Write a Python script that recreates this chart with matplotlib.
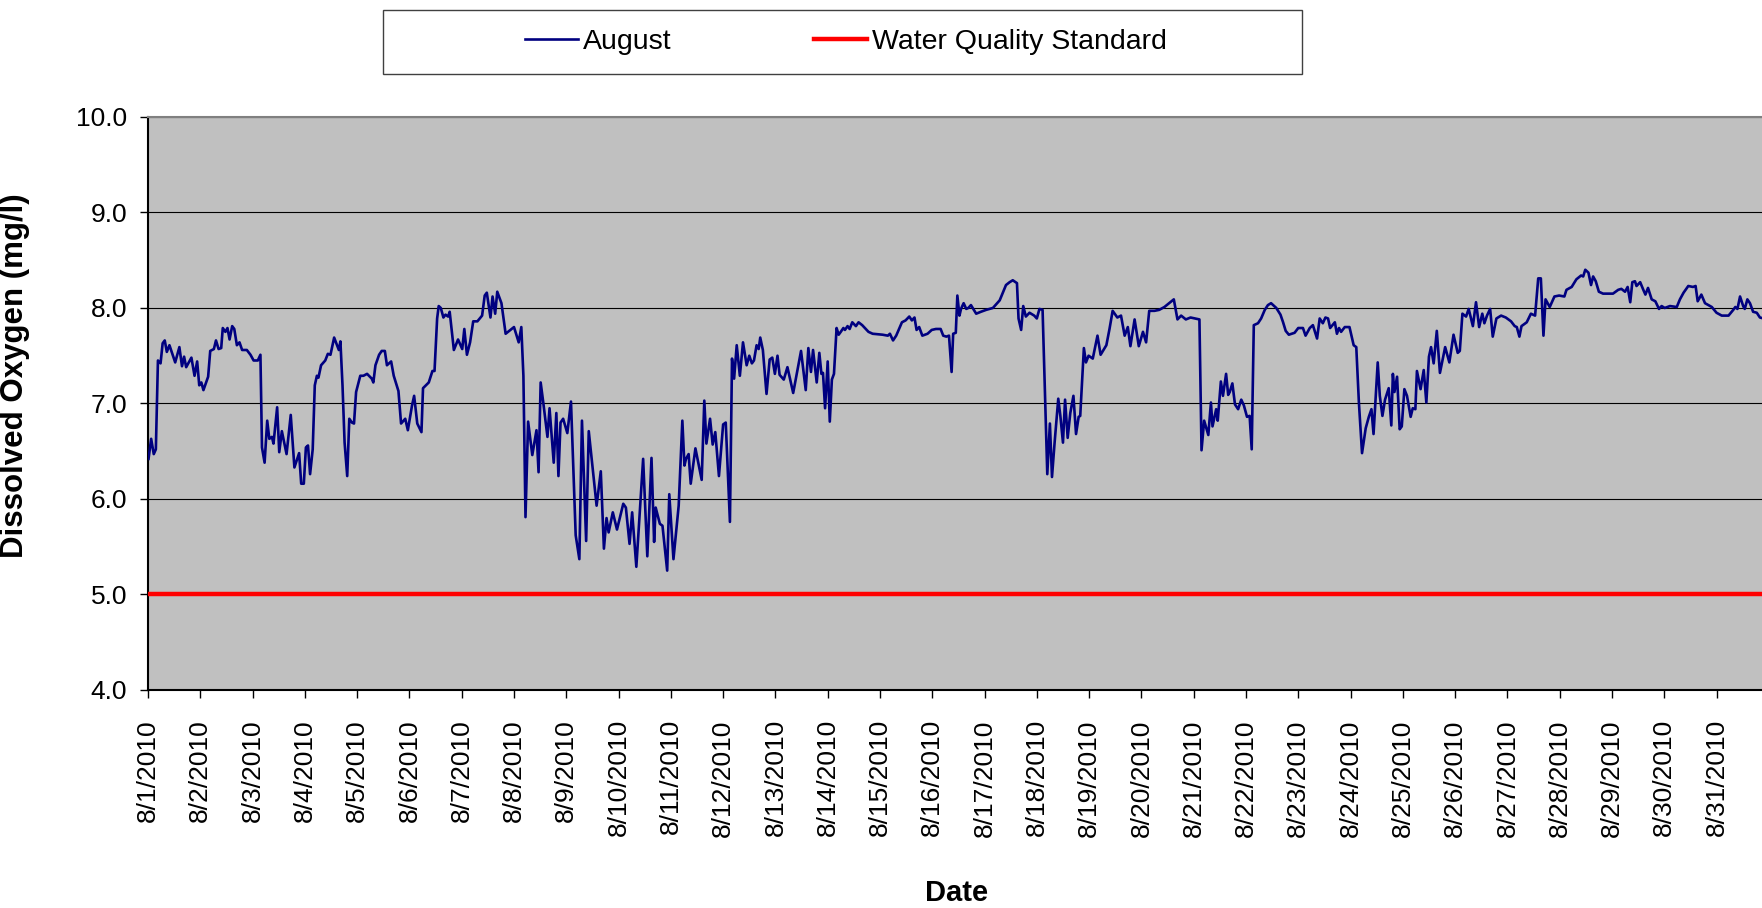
import matplotlib
matplotlib.use("Agg")
import matplotlib.pyplot as plt
import matplotlib.dates as mdates
from matplotlib.patches import Rectangle
from matplotlib.ticker import FuncFormatter, MultipleLocator
import pandas as pd

plt.rcParams['font.family'] = ['Liberation Sans', 'DejaVu Sans']

# time since 8/1/2010 00:00, in days, and dissolved oxygen (mg/l)
day_offset = [
    0.01, 0.06, 0.11, 0.15, 0.19, 0.24, 0.28, 0.32, 0.36, 0.41, 0.52, 0.60, 0.65, 0.69, 0.73,
    0.83, 0.89, 0.94, 0.98, 1.02, 1.06, 1.15, 1.19, 1.26, 1.30, 1.35, 1.40, 1.43, 1.48, 1.52,
    1.56, 1.61, 1.65, 1.70, 1.75, 1.80, 1.89, 1.96, 2.02, 2.10, 2.15, 2.18, 2.23, 2.28, 2.32,
    2.37, 2.40, 2.47, 2.51, 2.56, 2.65, 2.73, 2.80, 2.89, 2.93, 2.98, 3.02, 3.06, 3.10, 3.15,
    3.19, 3.23, 3.26, 3.31, 3.39, 3.44, 3.49, 3.56, 3.65, 3.68, 3.72, 3.76, 3.81, 3.85, 3.90,
    3.94, 3.98, 4.06, 4.12, 4.19, 4.28, 4.31, 4.35, 4.42, 4.47, 4.53, 4.57, 4.65, 4.70, 4.79,
    4.84, 4.92, 4.97, 5.05,
    5.09, 5.15, 5.23, 5.26, 5.37, 5.44, 5.48, 5.53, 5.56, 5.60, 5.65, 5.69, 5.74, 5.77, 5.85,
    5.93, 6.01, 6.05, 6.10, 6.16, 6.22, 6.30, 6.39, 6.44, 6.48, 6.55, 6.59, 6.64, 6.68, 6.76,
    6.84, 7.00, 7.09, 7.14, 7.18, 7.22, 7.27, 7.35, 7.43, 7.47, 7.51, 7.56, 7.64, 7.68, 7.76,
    7.81, 7.85, 7.89, 7.94, 8.02, 8.09, 8.18, 8.25, 8.30, 8.38, 8.43, 8.58, 8.66, 8.72, 8.77,
    8.81, 8.89, 8.97, 9.09, 9.14, 9.21, 9.26, 9.34, 9.47, 9.55, 9.63, 9.68, 9.71, 9.79, 9.84,
    9.93, 9.97, 10.05, 10.15, 10.22, 10.26,
    10.29, 10.34, 10.38, 10.47, 10.51, 10.59, 10.64, 10.68, 10.75, 10.80, 10.85, 10.92, 11.00,
    11.05, 11.13, 11.17, 11.21, 11.26, 11.32, 11.38, 11.45, 11.50, 11.55, 11.59, 11.64, 11.68,
    11.71, 11.76, 11.83, 11.89, 11.94, 11.99, 12.04, 12.08, 12.16, 12.23, 12.34, 12.49, 12.58,
    12.63, 12.68, 12.72, 12.79, 12.84, 12.88, 12.91, 12.95, 13.00, 13.04, 13.08, 13.12, 13.17,
    13.21, 13.25, 13.30, 13.33, 13.38, 13.42, 13.47, 13.54, 13.59, 13.66, 13.78, 13.86, 14.05,
    14.15, 14.19, 14.25, 14.31, 14.42, 14.49, 14.56, 14.61, 14.66, 14.70, 14.75, 14.81, 14.91,
    14.99, 15.07, 15.16, 15.21, 15.27, 15.32, 15.37, 15.40, 15.45, 15.48,
    15.52, 15.55, 15.60, 15.65, 15.69, 15.74, 15.84, 15.93, 16.03, 16.16, 16.29, 16.35, 16.41,
    16.48, 16.54, 16.62, 16.65, 16.70, 16.74, 16.79, 16.86, 16.95, 17.00, 17.05, 17.11, 17.16,
    17.20, 17.25, 17.29, 17.34, 17.41, 17.45, 17.50, 17.54, 17.59, 17.64, 17.70, 17.75, 17.80,
    17.83, 17.90, 17.94, 17.99, 18.07, 18.16, 18.22, 18.33, 18.39, 18.45, 18.54, 18.61, 18.68,
    18.74, 18.79, 18.87, 18.95, 19.03, 19.09, 19.15, 19.25, 19.34, 19.44, 19.53, 19.62, 19.69,
    19.76, 19.85, 19.94, 20.11, 20.15, 20.20, 20.28, 20.33, 20.36, 20.43, 20.46, 20.52, 20.56,
    20.62, 20.66,
    20.69, 20.74, 20.79, 20.85, 20.91, 20.96, 21.02, 21.07, 21.11, 21.15, 21.23, 21.29, 21.36,
    21.42, 21.48, 21.58, 21.66, 21.71, 21.76, 21.82, 21.93, 22.00, 22.09, 22.14, 22.22, 22.28,
    22.36, 22.41, 22.47, 22.52, 22.57, 22.61, 22.70, 22.74, 22.78, 22.82, 22.89, 22.98, 23.06,
    23.11, 23.16, 23.22, 23.29, 23.35, 23.40, 23.44, 23.52, 23.56, 23.61, 23.66, 23.73, 23.78,
    23.81, 23.84, 23.89, 23.94, 23.98, 24.03, 24.08, 24.15, 24.19, 24.24, 24.27, 24.34, 24.40,
    24.45, 24.50, 24.54, 24.59, 24.65, 24.71, 24.81, 24.89, 24.97, 25.05, 25.09, 25.14, 25.21,
    25.26, 25.34, 25.40, 25.46, 25.52, 25.56, 25.61, 25.67, 25.72, 25.79, 25.88,
    25.97, 26.07, 26.14, 26.18, 26.23, 26.27, 26.37, 26.45, 26.53, 26.59, 26.64, 26.69, 26.73,
    26.81, 26.90, 26.99, 27.09, 27.13, 27.23, 27.32, 27.41, 27.45, 27.49, 27.55, 27.60, 27.64,
    27.69, 27.75, 27.83, 28.02, 28.12, 28.18, 28.25, 28.30, 28.35, 28.39, 28.44, 28.47, 28.54,
    28.60, 28.64, 28.69, 28.76, 28.83, 28.90, 28.95, 29.01, 29.11, 29.24, 29.30, 29.37, 29.46,
    29.55, 29.60, 29.64, 29.71, 29.78, 29.91, 30.00, 30.10, 30.23, 30.32, 30.36, 30.40, 30.45,
    30.51, 30.54, 30.59, 30.64, 30.70, 30.77, 30.83, 30.90, 30.95,
]
do_values = [
    6.42, 6.63, 6.47, 6.52, 7.45, 7.42, 7.63, 7.66, 7.54, 7.61, 7.43, 7.59, 7.39, 7.49, 7.38,
    7.48, 7.29, 7.44, 7.19, 7.22, 7.14, 7.28, 7.55, 7.57, 7.66, 7.57, 7.58, 7.79, 7.75, 7.79,
    7.67, 7.81, 7.78, 7.61, 7.64, 7.56, 7.56, 7.51, 7.45, 7.45, 7.51, 6.54, 6.38, 6.82, 6.63,
    6.65, 6.58, 6.96, 6.49, 6.71, 6.47, 6.88, 6.33, 6.48, 6.16, 6.16, 6.54, 6.56, 6.26, 6.52,
    7.19, 7.29, 7.27, 7.40, 7.45, 7.52, 7.51, 7.69, 7.56, 7.65, 7.19, 6.59, 6.24, 6.84, 6.80,
    6.79, 7.12, 7.29, 7.29, 7.31, 7.26, 7.22, 7.40, 7.51, 7.55, 7.55, 7.40, 7.44, 7.29, 7.13,
    6.79, 6.84, 6.72, 6.98,
    7.08, 6.79, 6.70, 7.16, 7.22, 7.34, 7.34, 7.89, 8.02, 8.00, 7.90, 7.93, 7.91, 7.96, 7.56,
    7.67, 7.57, 7.78, 7.51, 7.64, 7.86, 7.86, 7.92, 8.13, 8.16, 7.90, 8.12, 7.94, 8.17, 8.05,
    7.73, 7.80, 7.64, 7.80, 7.29, 5.81, 6.81, 6.46, 6.72, 6.28, 7.22, 7.01, 6.65, 6.95, 6.38,
    6.90, 6.24, 6.80, 6.84, 6.69, 7.02, 5.62, 5.37, 6.82, 5.56, 6.71, 5.93, 6.29, 5.48, 5.80,
    5.65, 5.86, 5.68, 5.95, 5.91, 5.53, 5.86, 5.29, 6.42, 5.40, 6.43, 5.55, 5.91, 5.74, 5.72,
    5.25, 6.05, 5.37, 5.93, 6.82, 6.35,
    6.42, 6.47, 6.16, 6.53, 6.42, 6.20, 7.03, 6.58, 6.84, 6.57, 6.70, 6.24, 6.78,
    6.80, 5.76, 7.47, 7.26, 7.61, 7.29, 7.64, 7.40, 7.50, 7.42, 7.45, 7.61, 7.57,
    7.69, 7.56, 7.10, 7.46, 7.48, 7.31, 7.50, 7.30, 7.25, 7.38, 7.11, 7.55, 7.14,
    7.58, 7.33, 7.56, 7.22, 7.53, 7.31, 7.32, 6.95, 7.44, 6.81, 7.25, 7.31, 7.79,
    7.72, 7.75, 7.79, 7.77, 7.81, 7.78, 7.85, 7.81, 7.85, 7.82, 7.75, 7.73, 7.72,
    7.71, 7.73, 7.66, 7.71, 7.85, 7.87, 7.91, 7.87, 7.90, 7.77, 7.80, 7.71, 7.73,
    7.77, 7.78, 7.78, 7.71, 7.70, 7.71, 7.33, 7.73, 7.74, 8.13,
    7.92, 7.99, 8.05, 7.99, 8.00, 8.03, 7.94, 7.96, 7.98, 8.00, 8.08, 8.16, 8.24,
    8.27, 8.29, 8.26, 7.89, 7.77, 8.02, 7.91, 7.95, 7.92, 7.89, 7.99, 7.98, 7.01,
    6.26, 6.79, 6.23, 6.59, 7.05, 6.87, 6.59, 7.04, 6.64, 6.90, 7.08, 6.68, 6.86,
    6.87, 7.58, 7.43, 7.50, 7.47, 7.71, 7.51, 7.61, 7.78, 7.97, 7.90, 7.92, 7.71,
    7.80, 7.60, 7.88, 7.60, 7.75, 7.64, 7.97, 7.97, 7.98, 8.01, 8.05, 8.09, 7.88,
    7.92, 7.88, 7.90, 7.88, 6.51, 6.82, 6.67, 7.01, 6.76, 6.94, 6.82, 7.23, 7.08,
    7.31, 7.09,
    7.12, 7.21, 6.99, 6.94, 7.04, 6.98, 6.86, 6.87, 6.52, 7.82, 7.84, 7.89, 7.98,
    8.03, 8.05, 8.00, 7.93, 7.85, 7.76, 7.72, 7.74, 7.79, 7.79, 7.71, 7.79, 7.82,
    7.68, 7.89, 7.84, 7.90, 7.89, 7.79, 7.85, 7.73, 7.79, 7.75, 7.80, 7.80, 7.61,
    7.59, 7.01, 6.48, 6.74, 6.86, 6.94, 6.68, 7.43, 7.08, 6.87, 7.04, 7.16, 6.77,
    7.31, 7.12, 7.28, 6.73, 6.76, 7.15, 7.08, 6.86, 6.95, 6.94, 7.34, 7.15, 7.35,
    7.01, 7.49, 7.59, 7.42, 7.76, 7.32, 7.59, 7.43, 7.72, 7.53, 7.55, 7.94, 7.91,
    7.99, 7.81, 8.06, 7.80, 7.94, 7.84, 7.92, 7.99, 7.70, 7.89, 7.92,
    7.90, 7.86, 7.81, 7.80, 7.70, 7.81, 7.85, 7.94, 7.92, 8.31, 8.31, 7.71, 8.09,
    8.01, 8.12, 8.13, 8.12, 8.19, 8.22, 8.30, 8.34, 8.33, 8.40, 8.37, 8.24, 8.33,
    8.28, 8.17, 8.15, 8.15, 8.19, 8.20, 8.17, 8.22, 8.06, 8.27, 8.28, 8.23, 8.27,
    8.19, 8.14, 8.21, 8.09, 8.07, 7.99, 8.02, 8.00, 8.02, 8.01, 8.09, 8.16, 8.23,
    8.22, 8.23, 8.07, 8.14, 8.05, 8.01, 7.95, 7.92, 7.92, 7.98, 8.01, 7.99, 8.12,
    8.02, 7.99, 8.09, 8.05, 7.96, 7.95, 7.90, 7.89, 7.88,
]
standard = 5.0
series_labels = ['August', 'Water Quality Standard']

start = pd.Timestamp('2010-08-01')
times = start + pd.to_timedelta(day_offset, unit='D')

fig = plt.figure(figsize=(17.62, 9.08), dpi=100)
ax = fig.add_axes([0.084, 0.2401, 0.916, 0.6311])
ax.set_facecolor('#C0C0C0')

line_aug, = ax.plot(times, do_values, color='#000080', lw=1.9, zorder=3)
line_std = ax.axhline(standard, color='#FF0000', lw=3.2, zorder=3)

ax.set_ylim(4.0, 10.0)
ax.set_xlim(start, start + pd.Timedelta(days=30.87))
ax.yaxis.set_major_locator(MultipleLocator(1.0))
ax.yaxis.set_major_formatter(FuncFormatter(lambda v, p: f'{v:.1f}'))
ax.xaxis.set_major_locator(mdates.DayLocator())
ax.xaxis.set_major_formatter(FuncFormatter(
    lambda v, p: '{d.month}/{d.day}/{d.year}'.format(d=mdates.num2date(v))))

ax.yaxis.grid(True, color='#000000', lw=0.8)
ax.set_axisbelow(True)

ax.spines['right'].set_visible(False)
ax.spines['top'].set_color('#808080')
ax.spines['top'].set_linewidth(1.5)
for s in ('left', 'bottom'):
    ax.spines[s].set_color('black')
    ax.spines[s].set_linewidth(1.5)

ax.tick_params(axis='y', direction='out', length=6, width=1, pad=9, labelsize=19)
ax.tick_params(axis='x', direction='out', length=6, width=1, pad=15, labelsize=19,
               labelrotation=90)

ax.set_ylabel('Dissolved Oxygen (mg/l)', fontsize=22.5, fontweight='bold')
ax.yaxis.set_label_coords(-0.073, 0.548)
fig.text(957 / 1762, 1 - 893 / 908, 'Date', fontsize=21, fontweight='bold',
         ha='center', va='center')

# legend box across the top
fig.patches.append(Rectangle((383 / 1762, 1 - 74 / 908), 919 / 1762, 64 / 908,
                             transform=fig.transFigure, facecolor='white',
                             edgecolor='#404040', lw=1.0))
fig.legend([line_aug, line_std], series_labels, loc='center',
           bbox_to_anchor=(846 / 1762, 1 - 42 / 908), ncol=2, frameon=False,
           fontsize=20.5, handlelength=1.85, handletextpad=0.18, columnspacing=5.0)

fig.savefig('out.png', dpi=100)
